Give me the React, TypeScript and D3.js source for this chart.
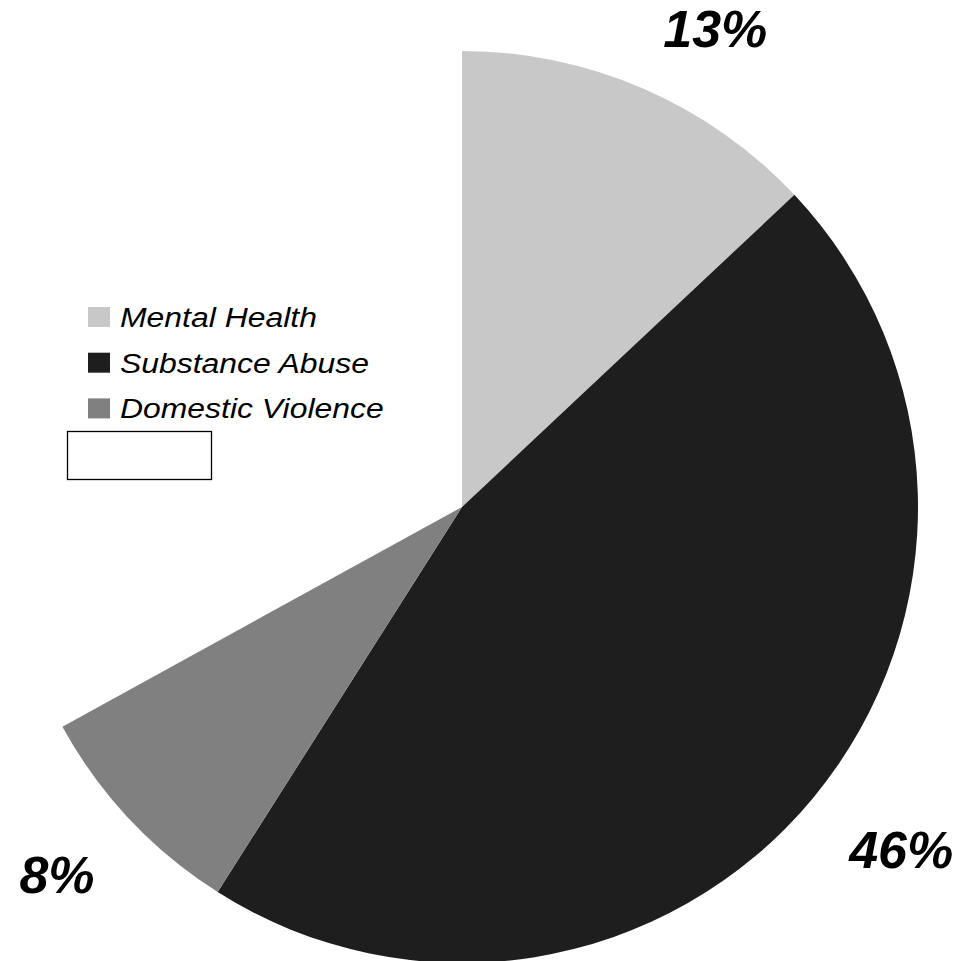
import React from "react";
import * as d3 from "d3";

const categories = ["Mental Health", "Substance Abuse", "Domestic Violence"];
const values = [13, 46, 8];
const colors = ["#c8c8c8", "#1e1e1e", "#808080"];
const total = 100;

const W = 959;
const H = 961;
const cx = 462;
const cy = 507;
const R = 456;

export default function App() {
  const pie = d3
    .pie<number>()
    .sort(null)
    .value((d) => d)
    .startAngle(0)
    .endAngle((2 * Math.PI * d3.sum(values)) / total);
  const arcs = pie(values);
  const arc = d3.arc<d3.PieArcDatum<number>>().innerRadius(0).outerRadius(R);
  const fs = 52;
  const capH = fs * 0.716;
  const anchorR = 518;

  const labels = arcs.map((a, i) => {
    const text = `${values[i]}%`;
    const mid = (a.startAngle + a.endAngle) / 2;
    const s = Math.sin(mid);
    const c = Math.cos(mid);
    const w = (String(values[i]).length * 0.556 + 0.889) * fs;
    let x = cx + anchorR * s + (w / 2) * s;
    let y = cy - anchorR * c - (capH / 2) * c;
    const minY = 10 + capH / 2;
    if (y < minY) {
      const lr = 548;
      y = minY;
      const dy = cy - y;
      x = cx + Math.sqrt(lr * lr - dy * dy) * Math.sign(s) - 14;
    }
    return { x, y, text };
  });

  return (
    <svg
      width={W}
      height={H}
      style={{ position: "absolute", left: 0, top: 0, background: "#fff" }}
    >
      <g transform={`translate(${cx},${cy})`}>
        {arcs.map((a, i) => (
          <path key={i} d={arc(a) || ""} fill={colors[i]} />
        ))}
      </g>
      {labels.map((l, i) => (
        <text
          key={i}
          x={l.x}
          y={l.y + capH / 2}
          textAnchor="middle"
          fontFamily="'Liberation Sans', Arial, sans-serif"
          fontWeight="bold"
          fontStyle="italic"
          fontSize={fs}
          fill="#000"
        >
          {l.text}
        </text>
      ))}
      <g>
        {categories.map((c, i) => (
          <g key={c} transform={`translate(88,${307 + i * 45.7})`}>
            <rect width={22} height={20} fill={colors[i]} />
            <text
              transform="translate(32,20) scale(1.14,1)"
              fontFamily="'Liberation Sans', Arial, sans-serif"
              fontStyle="italic"
              fontSize={28}
              fill="#000"
            >
              {c}
            </text>
          </g>
        ))}
        <rect x={67.5} y={431.5} width={144} height={48} fill="#fff" stroke="#000" strokeWidth={1.3} />
      </g>
    </svg>
  );
}
